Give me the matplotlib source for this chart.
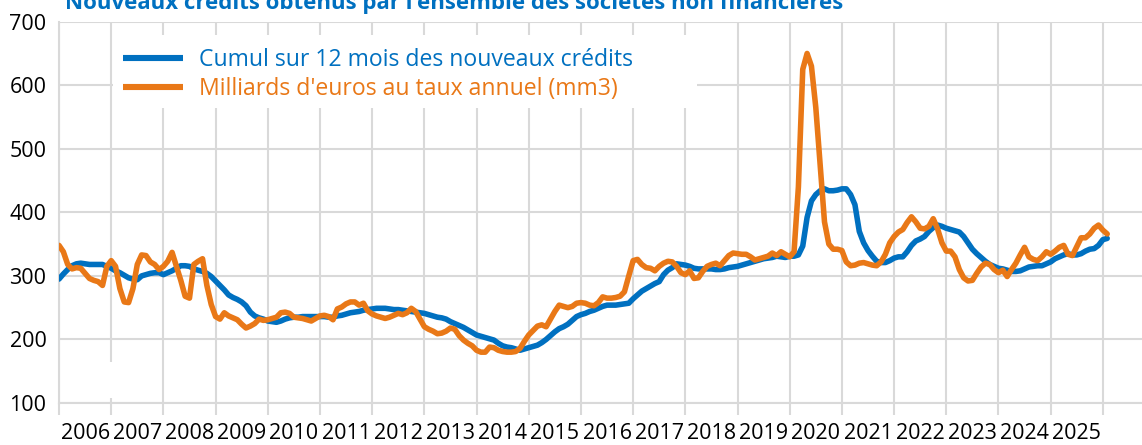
import numpy as np
import matplotlib
matplotlib.use("Agg")
import matplotlib.pyplot as plt
from matplotlib.patches import Rectangle

plt.rcParams['font.family'] = ['Open Sans', 'DejaVu Sans']

BLUE   = "#0070C0"
ORANGE = "#E97817"
GRID   = "#D9D9D9"

title = "Nouveaux crédits obtenus par l'ensemble des sociétés non financières"
label_cumul = "Cumul sur 12 mois des nouveaux crédits"
label_mm3   = "Milliards d'euros au taux annuel (mm3)"

start_year = 2006
year_labels = [str(y) for y in range(2006, 2026)]

# monthly values, Jan 2006 -> Feb 2026 (Md EUR)
cumul_12m = [
    295, 303, 310, 316, 319, 320, 319, 318, 318, 318, 318, 315,  # 2006
    312, 308, 305, 301, 297, 295, 294, 300, 302, 304, 305, 305,  # 2007
    302, 305, 308, 312, 316, 316, 315, 311, 309, 307, 304, 299,  # 2008
    292, 285, 278, 270, 266, 263, 259, 253, 243, 237, 234, 232,  # 2009
    229, 228, 227, 229, 232, 234, 235, 235, 236, 236, 236, 236,  # 2010
    236, 236, 235, 235, 237, 238, 240, 242, 243, 244, 246, 247,  # 2011
    248, 249, 249, 249, 248, 247, 247, 246, 245, 244, 243, 242,  # 2012
    241, 239, 237, 235, 234, 232, 228, 225, 222, 219, 215, 211,  # 2013
    207, 205, 203, 201, 199, 194, 190, 188, 187, 185, 183, 185,  # 2014
    187, 189, 191, 195, 200, 206, 212, 217, 220, 224, 230, 236,  # 2015
    239, 241, 244, 246, 249, 252, 254, 254, 254, 255, 256, 257,  # 2016
    264, 270, 276, 280, 284, 288, 291, 302, 309, 313, 319, 318,  # 2017
    317, 315, 312, 311, 311, 311, 311, 310, 310, 311, 313, 314,  # 2018
    315, 317, 319, 321, 323, 325, 327, 328, 329, 331, 330, 329,  # 2019
    331, 331, 333, 347, 392, 418, 428, 434, 437, 434, 434, 435,  # 2020
    437, 437, 428, 412, 370, 352, 340, 331, 323, 321, 321, 324,  # 2021
    328, 330, 330, 338, 348, 355, 358, 362, 370, 376, 380, 378,  # 2022
    375, 373, 371, 369, 362, 352, 342, 335, 329, 323, 318, 315,  # 2023
    312, 311, 309, 307, 307, 308, 311, 314, 315, 316, 316, 319,  # 2024
    322, 327, 330, 333, 335, 333, 333, 335, 339, 342, 343, 348,  # 2025
    357, 359,                                                    # 2026
]

annual_rate_mm3 = [
    348, 338, 318, 311, 313, 312, 304, 296, 293, 291, 285, 315,  # 2006
    324, 315, 280, 259, 258, 280, 318, 333, 332, 322, 318, 310,  # 2007
    315, 323, 337, 315, 293, 268, 265, 318, 323, 327, 285, 255,  # 2008
    236, 232, 242, 237, 234, 231, 224, 218, 221, 225, 232, 230,  # 2009
    231, 233, 235, 242, 243, 241, 235, 234, 233, 231, 229, 233,  # 2010
    237, 238, 236, 231, 248, 251, 256, 259, 259, 254, 257, 245,  # 2011
    240, 237, 235, 233, 235, 238, 241, 239, 242, 249, 244, 232,  # 2012
    220, 216, 213, 209, 210, 213, 218, 216, 206, 199, 194, 190,  # 2013
    183, 180, 180, 188, 187, 183, 181, 180, 180, 181, 186, 197,  # 2014
    207, 214, 221, 223, 220, 232, 244, 254, 252, 250, 252, 257,  # 2015
    258, 257, 254, 253, 258, 267, 265, 265, 266, 268, 275, 300,  # 2016
    324, 326, 318, 313, 312, 308, 315, 320, 323, 322, 315, 305,  # 2017
    302, 308, 296, 297, 307, 315, 318, 320, 316, 324, 332, 336,  # 2018
    335, 334, 334, 330, 325, 327, 329, 331, 336, 332, 338, 334,  # 2019
    330, 338, 440, 625, 650, 630, 565, 475, 385, 350, 342, 342,  # 2020
    340, 322, 316, 317, 320, 321, 319, 317, 316, 322, 334, 352,  # 2021
    362, 369, 373, 384, 393, 385, 375, 374, 378, 390, 374, 352,  # 2022
    339, 339, 330, 310, 297, 292, 293, 304, 314, 320, 318, 310,  # 2023
    305, 309, 299, 310, 320, 333, 345, 330, 326, 324, 330, 338,  # 2024
    334, 339, 345, 348, 334, 332, 346, 360, 360, 366, 375, 380,  # 2025
    372, 366,                                                    # 2026
]

x = start_year + np.arange(len(cumul_12m)) / 12

fig = plt.figure(figsize=(11.42, 4.45), dpi=100)
ax = fig.add_axes([59 / 1142, 42 / 445, 1083 / 1142, 381.3 / 445])
ax.set_axisbelow(True)

l1, = ax.plot(x, cumul_12m, color=BLUE, lw=4, solid_capstyle="round",
              solid_joinstyle="round", zorder=3)
l2, = ax.plot(x, annual_rate_mm3, color=ORANGE, lw=4, solid_capstyle="round",
              solid_joinstyle="round", zorder=4)

ax.set_xlim(2006, 2026.75)
ax.set_ylim(100, 700)
ax.set_yticks(range(100, 701, 100))

ax.set_xticks(np.arange(2006, 2027))
ax.set_xticks(np.arange(2006.5, 2026), minor=True)
ax.set_xticklabels([])
ax.set_xticklabels(year_labels, minor=True)
ax.tick_params(axis="x", which="major", length=8.6, width=1.5, color=GRID)
ax.tick_params(axis="x", which="minor", length=0, pad=14.5, labelsize=15.5)
ax.tick_params(axis="y", length=0, pad=9, labelsize=15.5)

ax.grid(True, which="major", color=GRID, lw=1.5)
for side in ("top", "right"):
    ax.spines[side].set_visible(False)
for side in ("left", "bottom"):
    ax.spines[side].set_color(GRID)
    ax.spines[side].set_linewidth(1.5)

# white box behind the legend, and the small gap on the 2007 gridline
ax.add_patch(Rectangle((0.0499, 0.774), 0.539, 0.191, transform=ax.transAxes,
                       facecolor="white", edgecolor="none", zorder=1))
ax.add_patch(Rectangle((2006.96, 108), 0.08, 57, facecolor="white",
                       edgecolor="none", zorder=1))

leg = ax.legend([l1, l2], [label_cumul, label_mm3], loc="upper left",
                bbox_to_anchor=(0.0591, 0.931), frameon=False, fontsize=16.6,
                handlelength=2.6, handletextpad=0.69, labelspacing=0.22,
                borderpad=0, borderaxespad=0, labelcolor="linecolor")
for h in leg.get_lines():
    h.set_linewidth(4.4)
    h.set_solid_capstyle("butt")

fig.text(65 / 1142, 1 - 8.5 / 445, title, fontsize=16, fontweight="bold",
         color=BLUE, va="baseline")

fig.savefig("out.png", dpi=100)
